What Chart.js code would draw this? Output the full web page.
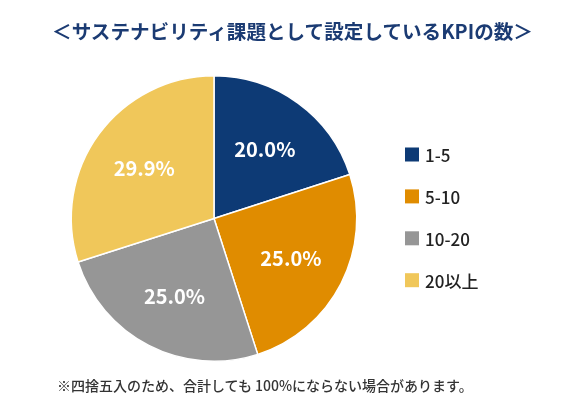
<!DOCTYPE html>
<html lang="ja">
<head>
  <meta charset="UTF-8">
  <title>サステナビリティ課題として設定しているKPIの数</title>
  <script src="https://cdn.jsdelivr.net/npm/chart.js"></script>
  <style>
    body {
      margin: 0;
      background: #ffffff;
      font-family: 'Noto Sans CJK JP', 'Noto Sans', sans-serif;
    }
    .wrap {
      position: relative;
      width: 585px;
      height: 415px;
    }
    .title {
      position: absolute;
      top: 16px;
      left: 0;
      width: 585px;
      text-align: center;
      font-size: 19.6px;
      font-weight: bold;
      color: #1b3b73;
    }
    .note {
      position: absolute;
      top: 375px;
      left: 57px;
      font-size: 14px;
      font-weight: 500;
      color: #333333;
    }
    canvas {
      position: absolute;
      top: 0;
      left: 0;
    }
  </style>
</head>
<body>
  <div class="wrap">
    <canvas id="kpi-chart" width="585" height="415"></canvas>
    <div class="title">＜サステナビリティ課題として設定しているKPIの数＞</div>
    <div class="note">※四捨五入のため、合計しても 100%にならない場合があります。</div>
  </div>

  <script>
    const categories = ['1-5', '5-10', '10-20', '20以上'];
    const shares = [20.0, 25.0, 25.0, 29.9];
    const colors = ['#0d3a75', '#e08c00', '#969696', '#f0c75a'];

    // percent labels inside slices + legend on the right
    const drawLabels = {
      id: 'drawLabels',
      afterDraw(chart) {
        const ctx = chart.ctx;
        const meta = chart.getDatasetMeta(0);
        ctx.save();
        ctx.fillStyle = '#ffffff';
        ctx.font = 'bold 20px "Noto Sans CJK JP"';
        ctx.textAlign = 'center';
        ctx.textBaseline = 'middle';
        meta.data.forEach((arc, i) => {
          const p = arc.getProps(['x', 'y', 'startAngle', 'endAngle', 'outerRadius'], true);
          const mid = (p.startAngle + p.endAngle) / 2;
          const r = p.outerRadius * 0.605;
          ctx.fillText(shares[i].toFixed(1) + '%', p.x + Math.cos(mid) * r, p.y + Math.sin(mid) * r + 1);
        });

        ctx.textAlign = 'left';
        ctx.font = '500 17px "Noto Sans CJK JP"';
        const lx = chart.chartArea.right + 47.5;
        categories.forEach((c, i) => {
          const y = 154.5 + i * 41.9;
          ctx.fillStyle = colors[i];
          ctx.fillRect(lx, y - 7, 14, 14);
          ctx.fillStyle = '#222222';
          ctx.fillText(c, lx + 20, y + 1);
        });
        ctx.restore();
      }
    };

    new Chart(document.getElementById('kpi-chart').getContext('2d'), {
      type: 'pie',
      data: {
        labels: categories,
        datasets: [{
          data: shares,
          backgroundColor: colors,
          borderColor: '#ffffff',
          borderWidth: 1.5
        }]
      },
      options: {
        responsive: false,
        animation: false,
        layout: {
          padding: { top: 75, bottom: 53, left: 70.5, right: 227.5 }
        },
        plugins: {
          legend: { display: false },
          tooltip: { enabled: false }
        }
      },
      plugins: [drawLabels]
    });
  </script>
</body>
</html>
